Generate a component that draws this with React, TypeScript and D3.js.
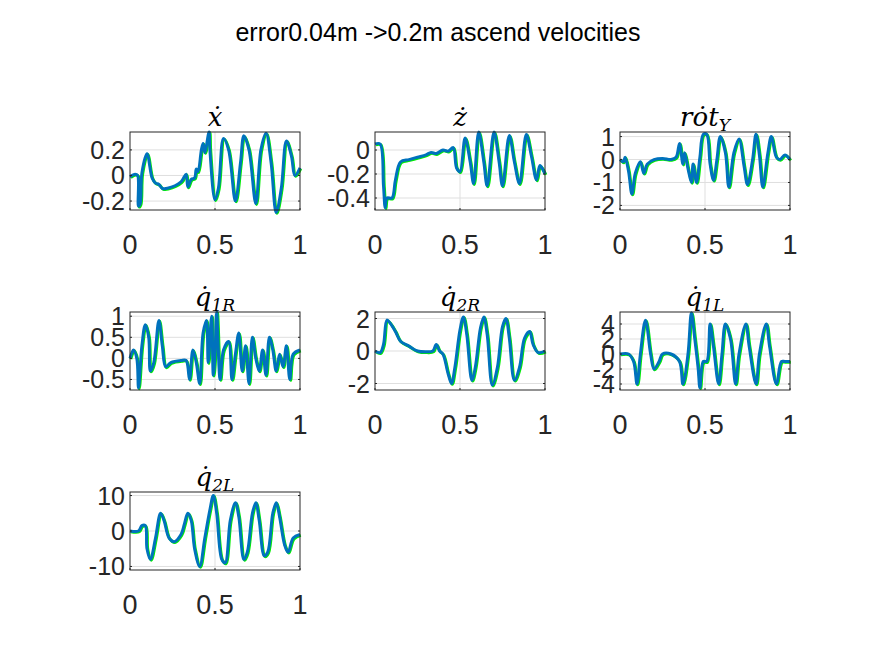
import * as d3 from "d3";

type P = [number, number];

const xDot: P[] = [[0,-0.01],[0.03,0.01],[0.045,0],[0.05,-0.24],[0.06,-0.22],[0.07,0.02],[0.1,0.17],[0.13,-0.02],[0.15,-0.06],[0.17,-0.07],[0.19,-0.1],[0.22,-0.1],[0.3,-0.05],[0.33,0.01],[0.34,-0.09],[0.36,-0.03],[0.38,-0.02],[0.39,0.05],[0.4,0.03],[0.42,0.2],[0.43,0.25],[0.44,0.18],[0.465,0.34],[0.47,0.2],[0.5,-0.19],[0.52,-0.1],[0.55,0.29],[0.58,0.2],[0.62,-0.2],[0.65,0.1],[0.67,0.31],[0.7,0.2],[0.74,-0.22],[0.77,0.2],[0.8,0.33],[0.83,0.1],[0.86,-0.29],[0.89,-0.1],[0.92,0.27],[0.95,0.15],[0.97,0.0],[1,0.06]];
const zDot: P[] = [[0,0.05],[0.03,0.05],[0.05,-0.3],[0.06,-0.48],[0.07,-0.4],[0.1,-0.4],[0.12,-0.25],[0.15,-0.1],[0.2,-0.08],[0.25,-0.06],[0.3,-0.04],[0.33,-0.02],[0.36,-0.03],[0.4,0],[0.43,-0.01],[0.46,0.02],[0.48,-0.15],[0.5,-0.18],[0.53,0.1],[0.56,-0.1],[0.58,-0.28],[0.61,0.15],[0.64,-0.1],[0.66,-0.3],[0.7,0.15],[0.73,-0.1],[0.75,-0.3],[0.79,0.12],[0.82,-0.1],[0.85,-0.28],[0.89,0.13],[0.92,-0.05],[0.95,-0.25],[0.97,-0.13],[1,-0.2]];
const rotY: P[] = [[0,0],[0.02,-0.1],[0.03,0.1],[0.05,-0.5],[0.07,-1.5],[0.09,-0.6],[0.12,-0.1],[0.14,-0.6],[0.16,-0.2],[0.2,0],[0.25,0.05],[0.3,0],[0.33,0.1],[0.35,0.7],[0.37,-0.2],[0.38,0.3],[0.4,-0.4],[0.42,-1.0],[0.43,-0.2],[0.45,-1.0],[0.47,0.1],[0.49,1.1],[0.51,1.1],[0.53,-0.2],[0.55,-0.9],[0.57,0],[0.59,1.0],[0.62,0.3],[0.64,-1.2],[0.67,0.3],[0.7,0.9],[0.73,-0.3],[0.75,-1.1],[0.78,0],[0.8,1.1],[0.82,0.2],[0.84,-1.2],[0.87,0.3],[0.89,1.0],[0.92,0.1],[0.94,0],[0.97,0.2],[1,0]];
const q1R: P[] = [[0,0],[0.02,0.2],[0.04,0],[0.05,-0.7],[0.07,0.3],[0.09,0.8],[0.11,0.5],[0.12,-0.3],[0.14,-0.1],[0.17,0.9],[0.19,0.3],[0.21,-0.2],[0.24,-0.1],[0.3,-0.05],[0.33,-0.05],[0.35,-0.5],[0.37,0.2],[0.39,-0.1],[0.41,-0.6],[0.43,0.6],[0.45,0.9],[0.46,-0.1],[0.48,1.0],[0.49,-0.4],[0.5,0.1],[0.51,1.1],[0.53,-0.5],[0.55,0.2],[0.58,0.4],[0.6,-0.5],[0.62,0.1],[0.64,0.6],[0.66,-0.3],[0.68,0.3],[0.7,-0.6],[0.72,0.5],[0.74,0],[0.76,-0.3],[0.78,0.2],[0.8,-0.4],[0.82,0.5],[0.84,0.2],[0.86,-0.3],[0.88,0.1],[0.9,-0.2],[0.92,0.3],[0.94,-0.5],[0.96,0.1],[1,0.2]];
const q2R: P[] = [[0,0],[0.03,-0.1],[0.05,0.4],[0.07,1.9],[0.09,1.7],[0.12,1.2],[0.15,0.6],[0.2,0.3],[0.25,0],[0.3,-0.05],[0.34,0],[0.36,0.4],[0.38,0],[0.4,-0.2],[0.43,-1.4],[0.45,-2.0],[0.47,-1.0],[0.5,1.3],[0.52,2.1],[0.54,1.0],[0.57,-1.8],[0.59,-1.0],[0.62,1.4],[0.64,2.1],[0.66,1.0],[0.69,-2.1],[0.72,-1.0],[0.75,1.5],[0.77,2.0],[0.79,0.8],[0.82,-1.8],[0.85,-1.0],[0.88,0.8],[0.91,1.2],[0.93,0.4],[0.96,-0.1],[1,0]];
const q1L: P[] = [[0,0],[0.05,0],[0.08,-1],[0.1,-4],[0.12,0],[0.15,4.5],[0.18,0],[0.2,-2],[0.23,-1],[0.25,0],[0.3,0],[0.35,-1],[0.37,-4],[0.4,0],[0.42,5.5],[0.44,2],[0.46,-2],[0.47,-4.5],[0.49,-1],[0.51,-1],[0.53,4],[0.55,1],[0.58,-4],[0.6,0],[0.62,4],[0.65,2],[0.68,-4],[0.7,0],[0.74,4],[0.76,1],[0.8,-4],[0.82,0],[0.86,4],[0.88,1],[0.92,-4],[0.95,-1],[0.97,-1],[1,-1]];
const q2L: P[] = [[0,0],[0.05,0],[0.07,1.5],[0.09,1.5],[0.1,-5],[0.12,-8],[0.15,-2],[0.18,5],[0.2,3],[0.23,-2],[0.26,-3],[0.3,-1],[0.32,2],[0.34,5],[0.36,3],[0.38,-5],[0.41,-10],[0.44,-2],[0.47,6],[0.49,10],[0.51,5],[0.54,-8],[0.56,-9],[0.59,3],[0.62,8],[0.64,4],[0.67,-8],[0.69,-6],[0.72,5],[0.74,8],[0.76,3],[0.79,-7],[0.81,-6],[0.84,5],[0.86,8],[0.88,4],[0.91,-4],[0.93,-6],[0.96,-2],[1,-1]];

const xTicks = [0, 0.5, 1];

type Panel = { base: string; sub?: string; dotIdx: number; data: P[]; domain: [number, number]; ticks: number[]; col: number; row: number };
const panels: Panel[] = [
  { base: "x", dotIdx: 0, data: xDot, domain: [-0.27, 0.34], ticks: [-0.2, 0, 0.2], col: 0, row: 0 },
  { base: "z", dotIdx: 0, data: zDot, domain: [-0.5, 0.15], ticks: [-0.4, -0.2, 0], col: 1, row: 0 },
  { base: "rot", sub: "Y", dotIdx: 1, data: rotY, domain: [-2.2, 1.2], ticks: [-2, -1, 0, 1], col: 2, row: 0 },
  { base: "q", sub: "1R", dotIdx: 0, data: q1R, domain: [-0.75, 1.1], ticks: [-0.5, 0, 0.5, 1], col: 0, row: 1 },
  { base: "q", sub: "2R", dotIdx: 0, data: q2R, domain: [-2.4, 2.4], ticks: [-2, 0, 2], col: 1, row: 1 },
  { base: "q", sub: "1L", dotIdx: 0, data: q1L, domain: [-4.8, 5.6], ticks: [-4, -2, 0, 2, 4], col: 2, row: 1 },
  { base: "q", sub: "2L", dotIdx: 0, data: q2L, domain: [-11, 11], ticks: [-10, 0, 10], col: 0, row: 2 },
];

const colX = [130, 375, 620];
const rowY = [132, 312, 492];
const W = 170, H = 78;
const font = "Liberation Sans, Arial, sans-serif";

function PanelView({ p }: { p: Panel }) {
  const x0 = colX[p.col], y0 = rowY[p.row];
  const x = d3.scaleLinear().domain([0, 1]).range([0, W]);
  const y = d3.scaleLinear().domain(p.domain).range([H, 0]);
  const line = d3.line<P>().x((d) => x(d[0])).y((d) => y(d[1])).curve(d3.curveCatmullRom);
  const dStr = line(p.data) || "";
  return (
    <g transform={`translate(${x0},${y0})`}>
      <rect width={W} height={H} fill="#fff" />
      {p.ticks.map((t) => <line key={t} x1={0} x2={W} y1={y(t)} y2={y(t)} stroke="#dfdfdf" />)}
      <line x1={x(0.5)} x2={x(0.5)} y1={0} y2={H} stroke="#dfdfdf" />
      <path d={dStr} fill="none" stroke="#00ee00" strokeWidth={3} transform="translate(0.8,0.8)" />
      <path d={dStr} fill="none" stroke="#0072BD" strokeWidth={3} />
      <rect width={W} height={H} fill="none" stroke="#262626" strokeWidth={1} />
      {p.ticks.map((t) => (
        <g key={"t" + t}>
          <line x1={0} x2={2} y1={y(t)} y2={y(t)} stroke="#262626" />
          <line x1={W - 2} x2={W} y1={y(t)} y2={y(t)} stroke="#262626" />
          <text x={-5} y={y(t)} dy="0.36em" textAnchor="end" fontSize={25} fontFamily={font} fill="#262626">{t}</text>
        </g>
      ))}
      {xTicks.map((t) => (
        <g key={"x" + t}>
          <line x1={x(t)} x2={x(t)} y1={H} y2={H - 2} stroke="#262626" />
          <text x={x(t)} y={H + 44} textAnchor="middle" fontSize={27} fontFamily={font} fill="#262626">{t}</text>
        </g>
      ))}
      <text x={W / 2} y={-6} textAnchor="middle" fontSize={26} fontFamily="DejaVu Serif, serif" fontStyle="italic" fill="#000">
        {p.base.split("").map((c, i) => (
          <tspan key={i}>{c}{i === p.dotIdx ? "\u0307" : ""}</tspan>
        ))}
        {p.sub && <tspan fontSize={17} dy={5}>{p.sub}</tspan>}
      </text>
    </g>
  );
}

export default function App() {
  return (
    <svg width={875} height={656} style={{ display: "block", margin: -8 }}>
      <rect width={875} height={656} fill="#fff" />
      <text x={438} y={41} textAnchor="middle" fontSize={25} fontFamily={font} fill="#000">error0.04m -&gt;0.2m ascend velocities</text>
      {panels.map((p, i) => <PanelView key={i} p={p} />)}
    </svg>
  );
}
